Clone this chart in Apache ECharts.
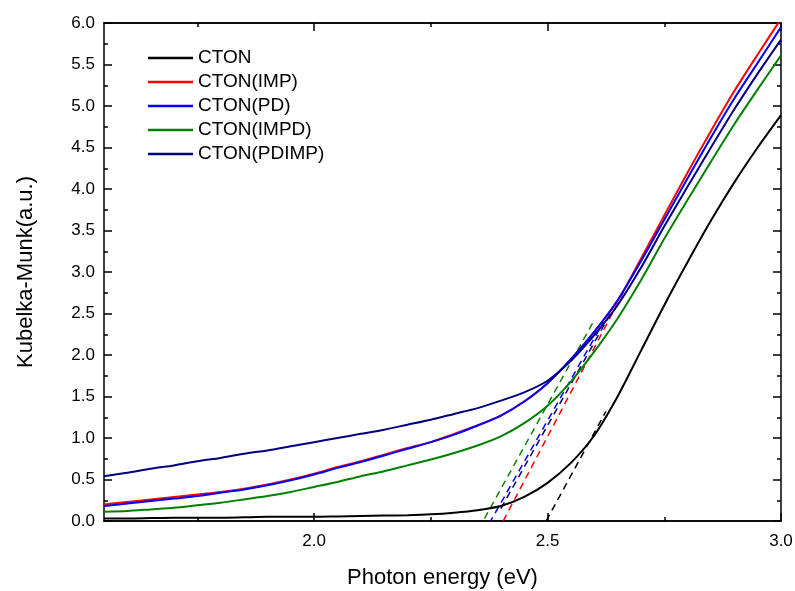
<!DOCTYPE html>
<html>
<head>
<meta charset="utf-8">
<script src="https://cdn.jsdelivr.net/npm/echarts@6/dist/echarts.min.js"></script>
<style>
  html, body { margin: 0; padding: 0; background: #fff; }
  #chart { width: 795px; height: 591px; }
</style>
</head>
<body>
<div id="chart"></div>
<script>
// photon energy (eV)
var energy = [1.55, 1.60, 1.65, 1.70, 1.75, 1.80, 1.85, 1.90, 1.95, 2.00,
              2.05, 2.10, 2.15, 2.20, 2.25, 2.30, 2.35, 2.40, 2.45, 2.50,
              2.55, 2.60, 2.65, 2.70, 2.75, 2.80, 2.85, 2.90, 2.95, 3.00];

// Kubelka-Munk values
var cton = [0.03, 0.03, 0.035, 0.04, 0.04, 0.04, 0.045, 0.05, 0.05, 0.05,
            0.055, 0.06, 0.065, 0.07, 0.08, 0.10, 0.13, 0.18, 0.29, 0.46,
            0.70, 1.03, 1.50, 2.05, 2.60, 3.12, 3.62, 4.08, 4.50, 4.89];
var ctonImp = [0.20, 0.23, 0.26, 0.29, 0.32, 0.35, 0.39, 0.44, 0.50, 0.57,
               0.65, 0.72, 0.80, 0.88, 0.95, 1.05, 1.15, 1.27, 1.44, 1.66,
               1.95, 2.28, 2.65, 3.16, 3.68, 4.20, 4.70, 5.18, 5.62, 6.05];
var ctonPd = [0.18, 0.21, 0.24, 0.27, 0.30, 0.34, 0.38, 0.43, 0.49, 0.56,
              0.64, 0.71, 0.79, 0.87, 0.95, 1.04, 1.15, 1.27, 1.44, 1.66,
              1.95, 2.28, 2.66, 3.13, 3.63, 4.13, 4.62, 5.09, 5.52, 5.95];
var ctonImpd = [0.11, 0.12, 0.14, 0.16, 0.19, 0.22, 0.26, 0.30, 0.35, 0.41,
                0.47, 0.54, 0.60, 0.67, 0.74, 0.82, 0.91, 1.02, 1.18, 1.39,
                1.68, 2.04, 2.44, 2.90, 3.40, 3.87, 4.33, 4.78, 5.20, 5.61];
var ctonPdimp = [0.54, 0.58, 0.63, 0.67, 0.72, 0.76, 0.81, 0.85, 0.90, 0.95,
                 1.00, 1.05, 1.10, 1.16, 1.22, 1.29, 1.36, 1.45, 1.55, 1.69,
                 1.93, 2.24, 2.60, 3.05, 3.55, 4.03, 4.50, 4.96, 5.39, 5.80];

// tangent (band gap) fits, [x, y] end points
var fitCton = [[2.497, 0.0], [2.625, 1.32]];
var fitImp = [[2.405, 0.0], [2.69, 3.05]];
var fitPd = [[2.375, -0.03], [2.62, 2.40]];
var fitImpd = [[2.365, 0.03], [2.60, 2.42]];
var fitPdimp = [[2.40, 0.15], [2.64, 2.55]];

var names = ['CTON', 'CTON(IMP)', 'CTON(PD)', 'CTON(IMPD)', 'CTON(PDIMP)'];
var colors = ['#000000', '#ff0000', '#0000ff', '#008000', '#000080'];

var xMajor = [2.0, 2.5, 3.0];
var xMinor = [1.75, 2.25, 2.75];

function pairs(ys) {
    return energy.map(function(x, i) { return [x, ys[i]]; });
}

var chart = echarts.init(document.getElementById('chart'));
var font = 'Liberation Sans, Arial, sans-serif';
var axisLine = { lineStyle: { color: '#000', width: 1.5 } };

function xAx(pos, ticks, len, label) {
    return {
        type: 'value', min: 1.55, max: 3.0, position: pos,
        axisLine: { show: true, lineStyle: { color: '#000', width: 1.5 } },
        axisTick: { show: true, inside: true, length: len, customValues: ticks,
                    lineStyle: { color: '#000', width: 1.5 } },
        axisLabel: label ? {
            show: true, customValues: ticks, margin: 12, color: '#000',
            fontSize: 17, fontFamily: font,
            formatter: function(v) { return v.toFixed(1); }
        } : { show: false },
        splitLine: { show: false },
        name: label ? 'Photon energy (eV)' : '',
        nameLocation: 'middle', nameGap: 46,
        nameTextStyle: { fontSize: 22, fontFamily: font, color: '#000' }
    };
}

function yAx(pos, label) {
    return {
        type: 'value', min: 0, max: 6, interval: 0.5, position: pos,
        axisLine: axisLine,
        axisTick: { inside: true, length: 8, lineStyle: { color: '#000', width: 1.5 } },
        minorTick: { show: true, splitNumber: 2, length: 4, lineStyle: { color: '#000', width: 1.5 } },
        axisLabel: label ? {
            margin: 9, color: '#000', fontSize: 17, fontFamily: font,
            formatter: function(v) { return v.toFixed(1); }
        } : { show: false },
        splitLine: { show: false },
        name: label ? 'Kubelka-Munk(a.u.)' : '',
        nameLocation: 'middle', nameGap: 67,
        nameTextStyle: { fontSize: 22, fontFamily: font, color: '#000' }
    };
}

var series = [];
[cton, ctonImp, ctonPd, ctonImpd, ctonPdimp].forEach(function(ys, i) {
    series.push({
        name: names[i], type: 'line', data: pairs(ys),
        symbol: 'none', smooth: 0.25,
        lineStyle: { color: colors[i], width: 2 },
        itemStyle: { color: colors[i] }
    });
});
[fitCton, fitImp, fitPd, fitImpd, fitPdimp].forEach(function(pts, i) {
    series.push({
        name: 'fit' + i, type: 'line', data: pts, symbol: 'none',
        lineStyle: { color: colors[i], width: 1.5, type: [7, 5] },
        z: 1
    });
});

chart.setOption({
    animation: false,
    grid: { left: 104, right: 14, top: 23, bottom: 70, outerBoundsMode: 'none' },
    xAxis: [
        xAx('bottom', xMajor, 8, true),
        xAx('bottom', xMinor, 4, false),
        xAx('top', xMajor, 8, false),
        xAx('top', xMinor, 4, false)
    ],
    yAxis: [yAx('left', true), yAx('right', false)],
    legend: {
        data: names, orient: 'vertical', left: 143, top: 43,
        icon: 'rect', itemWidth: 45, itemHeight: 2.5, itemGap: 4,
        textStyle: { fontSize: 19, fontFamily: font, color: '#000', lineHeight: 20 }
    },
    series: series
});
</script>
</body>
</html>
